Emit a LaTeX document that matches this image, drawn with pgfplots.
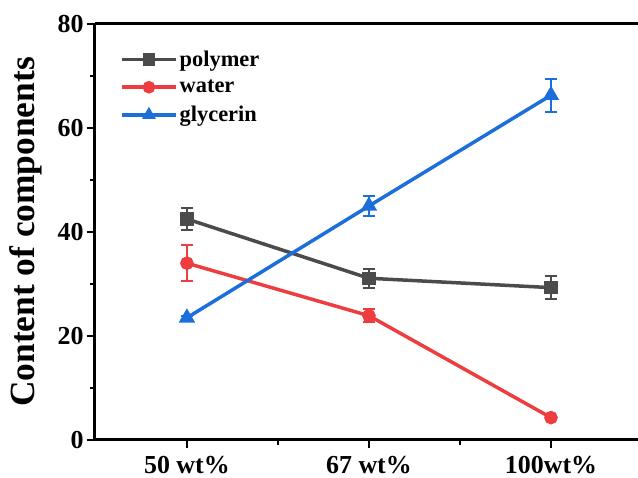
\documentclass[border=0pt]{standalone}
\usepackage{fontspec}
\setmainfont{Liberation Serif}
\usepackage{pgfplots}
\pgfplotsset{compat=1.18}
\definecolor{cpoly}{HTML}{4B4B4B}
\definecolor{cwater}{HTML}{EE3D3F}
\definecolor{cgly}{HTML}{1C6FDB}
\begin{document}
\begin{tikzpicture}
\begin{axis}[
  scale only axis, width=543bp, height=416bp,
  xmin=-0.505, xmax=2.478, ymin=0, ymax=80,
  axis x line*=box, axis y line*=left,
  xtick={0,1,2}, xticklabels={50 wt\%, 67 wt\%, 100wt\%},
  minor xtick={0.5,1.5},
  ytick={0,20,...,80}, minor ytick={10,30,50,70},
  xtick pos=bottom, ytick pos=left,
  tick align=outside,
  major tick length=8bp, minor tick length=5bp,
  every tick/.style={line width=2.5bp, black},
  axis line style={line width=3bp},
  tick label style={font=\bfseries\fontsize{26}{26}\selectfont},
  xticklabel style={yshift=-5bp},
  /pgf/number format/assume math mode=true,
  ylabel={Content of components},
  ylabel style={font=\bfseries\fontsize{35.5}{36}\selectfont, at={(axis description cs:-0.0976,0.5)}, anchor=south, inner sep=0pt},
  legend style={draw=none, fill=none, at={(axis description cs:0.046,0.94)}, anchor=north west,
    font=\bfseries\fontsize{22.5}{27}\selectfont, inner sep=0pt, row sep=8bp},
  legend cell align=left,
  legend image code/.code={\draw[mark repeat=2,mark phase=2,#1,mark size=4.5bp] plot coordinates {(0bp,0bp)(27bp,0bp)(54bp,0bp)};},
]
\addplot[cpoly, line width=3.5bp, mark=square*, mark size=5bp, mark options={solid},
  error bars/.cd, y dir=both, y explicit,
  error bar style={line width=2bp, cpoly},
  error mark options={rotate=90, mark size=6bp, line width=2bp, cpoly}]
  table[x=x, y=y, y error=e]{
x y e
0 42.5 2.1
1 31.1 1.8
2 29.3 2.2
};
\addlegendentry{polymer}
\addplot[cwater, line width=3.5bp, mark=*, mark size=5bp, mark options={solid},
  error bars/.cd, y dir=both, y explicit,
  error bar style={line width=2bp, cwater},
  error mark options={rotate=90, mark size=6bp, line width=2bp, cwater}]
  table[x=x, y=y, y error=e]{
x y e
0 34.0 3.5
1 23.9 1.2
2 4.3 0.3
};
\addlegendentry{water}
\addplot[cgly, line width=3.5bp, mark=triangle*, mark size=6bp, mark options={solid},
  error bars/.cd, y dir=both, y explicit,
  error bar style={line width=2bp, cgly},
  error mark options={rotate=90, mark size=6bp, line width=2bp, cgly}]
  table[x=x, y=y, y error=e]{
x y e
0 23.5 0.3
1 45.0 2.0
2 66.3 3.2
};
\addlegendentry{glycerin}
\end{axis}
\pgfresetboundingbox
\path[use as bounding box] ([xshift=-95bp,yshift=-38bp]current axis.south west) rectangle ([yshift=24bp]current axis.north east);
\end{tikzpicture}
\end{document}
